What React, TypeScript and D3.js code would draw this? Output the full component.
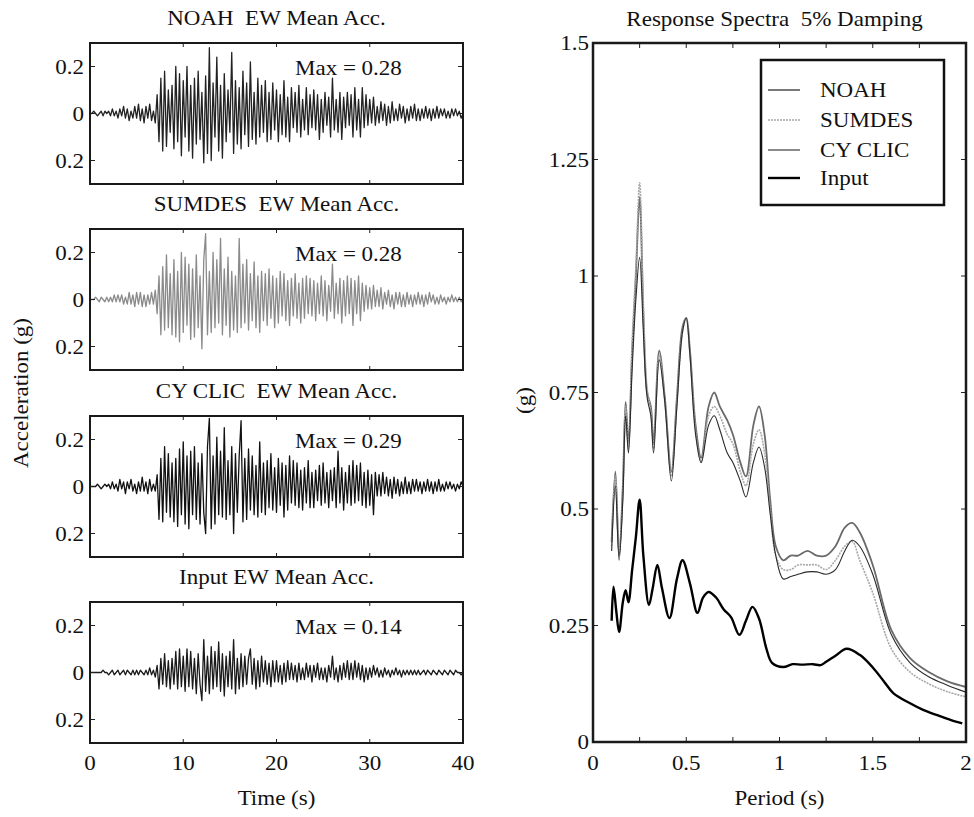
import React from 'react';
import * as d3 from 'd3';

const FONT = '"Liberation Serif", "Times New Roman", serif';

// ---------- Acceleration time histories (hundredths of g), sampled every 0.2 s from 0 to 40 s ----------
const sampleStep = 0.2;
const noahAcc = [
  0,0,1,0,-1, 0,1,-1,1,0, 1,-1,2,-1,1, -2,2,-1,3,-2, 2,-3,1,-2,3, -2,4,-3,2,-4, 3,-2,4,-3,1,
  -4,8,-12,15,-16, 18,-14,10,-8,12, -15,20,-12,17,-18, 14,-10,20,-16,12, -19,15,-13,18,-11,
  9,-21,16,-17,28, -20,13,-10,24,-16, 12,-19,17,-12,10, -8,26,-17,14,-13, 11,-15,18,-9,13,
  -14,22,-11,9,-13, 15,-10,12,-8,14, -12,9,-11,13,-7, 10,-12,8,-9,14, -10,7,-12,11,-6,
  9,-8,12,-10,6, -7,11,-9,8,-6, 10,-7,8,-11,6, -8,9,-5,7,-10, 15,-7,6,-8,9,
  -11,7,-6,9,-5, 8,-10,11,-7,6, -10,11,-6,8,-5, 6,-4,7,-5,3, -4,5,-3,4,-5,
  3,-4,5,-3,2, -3,4,-2,3,-4, 2,-3,3,-2,4, -3,2,-3,2,-2, 3,-2,2,-3,2,
  -2,3,-2,2,-1, 2,-2,1,-2,2, -1,2,-1,1,-2, 0,
];
const sumdesAcc = [
  0,0,0,1,0, -1,1,0,-1,1, -1,1,-1,2,-1, 2,-1,2,-2,1, -2,3,-2,2,-3, 3,-2,3,-3,2, -3,2,-2,3,-2,
  4,-6,10,-15,14, -13,19,-12,11,-15, 17,-16,12,-18,20, -14,18,-11,15,-17, 13,-16,19,-12,10,
  -21,17,28,-15,12, -14,20,-12,17,-10, 26,-15,13,-11,18, -16,12,-13,10,-14, 26,-12,15,-10,17,
  -13,11,-9,16,-12, 10,-14,12,-9,11, -11,13,-8,10,-12, 9,-10,12,-7,11, -9,8,-11,9,-7,
  11,-8,7,-10,9, -8,10,-6,9,-7, 8,-9,7,-6,10, -7,8,-9,6,-5, 15,-8,7,-6,9,
  -10,8,-7,10,-6, 9,-11,8,-6,10, -9,7,-5,6,-4, 5,-4,6,-3,4, -3,5,-4,3,-2,
  4,-3,2,-4,3, -2,3,-3,2,-3, 3,-2,2,-3,2, -2,3,-2,2,-3, 2,-2,3,-1,2,
  -2,1,-2,2,-1, 1,-2,1,-1,2, -1,1,-1,1,-1, 0,
];
const cyclicAcc = [
  0,0,0,0,1, 0,-1,0,1,0, 1,-1,2,-1,1, -2,3,-1,2,-3, 2,-1,3,-2,1, -3,2,-2,4,-2, 2,-3,3,-2,1,
  -2,5,-14,12,-15, 17,-11,14,-13,10, -15,12,-17,16,-12, 19,-16,13,-18,15, -12,17,-14,10,-16,
  14,-11,-20,17,29, -18,13,-16,21,-12, 15,-13,25,-14,11, -12,17,-20,14,-11, 13,28,-15,12,-14,
  16,-10,13,-12,9, -13,19,-11,10,-12, 11,-9,14,-10,8, -11,12,-8,10,-13, 9,-10,13,-7,11,
  -8,10,-9,7,-10, 8,-7,11,-9,6, -9,7,-6,9,-8, 10,-7,6,-9,7, -6,8,-9,15,-7,
  8,-10,6,-7,9, -8,11,-7,9,-6, 10,-8,6,-9,7, -8,5,-12,6,-4, 5,-4,6,-3,4,
  -4,3,-5,4,-3, 3,-4,2,-3,4, -3,2,-3,3,-2, 3,-2,2,-3,2, -2,3,-2,2,-3,
  2,-2,3,-2,1, -2,2,-1,2,-1, 1,-2,1,-1,2, 0,
];
const inputAcc = [
  0,0,0,0,0, 0,0,1,0,0, -1,0,1,-1,0, 1,-1,0,1,-1, 1,0,-1,1,-1, 1,-1,1,0,-1, 1,-1,2,-1,1,
  -2,3,-7,6,-5, 8,-6,5,-7,6, -5,9,-7,10,-6, 7,-8,10,-6,9, -7,6,-9,8,-5,
  -12,14,-8,7,-9, 11,-7,9,-6,13, -8,8,-10,7,-6, 9,-7,14,-9,6, -7,8,-6,7,-5,
  6,10,-5,6,-7, 5,-6,7,-4,5, -5,4,-6,5,-4, 5,-4,3,-5,4, -4,5,-3,4,-3,
  3,-4,4,-3,2, -3,4,-2,3,-4, 3,-2,4,-3,2, -3,2,-4,3,-2, 7,-3,2,-4,3,
  -3,4,-2,5,-3, 4,-3,5,-2,4, -3,3,-4,2,-3, 2,-2,3,-1,2, -2,1,-2,2,-1,
  1,-2,1,-1,2, -1,1,-2,1,-1, 1,-1,1,-1,1, -1,1,-1,0,1, -1,1,0,-1,1,
  0,-1,1,0,-1, 1,0,-1,1,0, -1,1,0,0,-1, 0,
];
const panelTitles = ['NOAH  EW Mean Acc.', 'SUMDES  EW Mean Acc.', 'CY CLIC  EW Mean Acc.', 'Input EW Mean Acc.'];
const maxLabels = ['Max = 0.28', 'Max = 0.28', 'Max = 0.29', 'Max = 0.14'];
const accYTicks = [20, 0, -20];
const accYTickLabels = ['0.2', '0', '0.2'];
const timeTicks = [0, 10, 20, 30, 40];

// ---------- Response spectra (g) ----------
const modelPeriods = [0.10,0.12,0.14,0.16,0.175,0.19,0.21,0.23,0.25,0.27,0.29,0.31,0.325,0.355,0.385,0.42,0.45,0.48,0.50,0.52,0.55,0.58,0.62,0.65,0.68,0.72,0.75,0.79,0.82,0.86,0.89,0.92,0.95,0.98,1.02,1.06,1.10,1.15,1.20,1.25,1.30,1.35,1.39,1.43,1.50,1.60,1.70,1.80,1.90,2.00];
const noahSa = [0.43,0.58,0.40,0.55,0.73,0.64,0.84,1.00,1.17,0.92,0.75,0.72,0.64,0.84,0.74,0.58,0.74,0.89,0.91,0.84,0.68,0.61,0.72,0.75,0.72,0.69,0.66,0.60,0.57,0.68,0.72,0.66,0.52,0.42,0.39,0.40,0.40,0.41,0.40,0.40,0.42,0.46,0.47,0.45,0.38,0.24,0.18,0.15,0.13,0.118];
const sumdesSa = [0.42,0.57,0.41,0.53,0.72,0.63,0.86,1.02,1.20,0.94,0.76,0.71,0.63,0.83,0.73,0.57,0.73,0.88,0.91,0.83,0.67,0.60,0.70,0.72,0.70,0.66,0.64,0.58,0.55,0.64,0.67,0.62,0.50,0.40,0.37,0.37,0.38,0.38,0.38,0.37,0.39,0.42,0.43,0.39,0.32,0.20,0.15,0.125,0.108,0.097];
const cyclicSa = [0.41,0.55,0.39,0.52,0.70,0.62,0.80,0.95,1.04,0.88,0.74,0.70,0.62,0.82,0.73,0.56,0.72,0.88,0.91,0.83,0.66,0.60,0.68,0.70,0.67,0.62,0.60,0.56,0.526,0.60,0.633,0.59,0.49,0.40,0.35,0.355,0.36,0.365,0.365,0.36,0.37,0.41,0.433,0.42,0.36,0.23,0.17,0.14,0.122,0.107];
const inputPeriods = [0.10,0.11,0.125,0.14,0.16,0.175,0.19,0.21,0.23,0.25,0.27,0.30,0.32,0.345,0.37,0.41,0.45,0.48,0.52,0.56,0.59,0.62,0.66,0.70,0.74,0.785,0.82,0.855,0.89,0.93,0.96,1.02,1.07,1.12,1.18,1.22,1.25,1.30,1.36,1.43,1.50,1.56,1.61,1.70,1.77,1.85,1.92,1.98];
const inputSa = [0.26,0.333,0.28,0.236,0.30,0.326,0.30,0.37,0.44,0.52,0.40,0.294,0.33,0.38,0.33,0.266,0.35,0.39,0.34,0.277,0.31,0.322,0.31,0.285,0.268,0.23,0.26,0.29,0.265,0.20,0.17,0.161,0.167,0.166,0.167,0.165,0.172,0.185,0.20,0.187,0.16,0.13,0.105,0.083,0.069,0.057,0.047,0.04];
const legendNames = ['NOAH', 'SUMDES', 'CY CLIC', 'Input'];
const periodTicks = [0, 0.25, 0.5, 0.75, 1, 1.25, 1.5, 1.75, 2];
const periodLabels = [0, 0.5, 1, 1.5, 2];
const saTicks = [0, 0.25, 0.5, 0.75, 1, 1.25, 1.5];

// ---------- layout ----------
const W = 974, H = 817;
const LX0 = 90, LX1 = 463;
const panelTops = [43, 229, 416, 602];
const PH = 141;
const RX0 = 593, RX1 = 966, RY0 = 43, RY1 = 742;
const traceColors = ['#222222', '#8a8a8a', '#111111', '#1a1a1a'];
const specStyles = [
  { color: '#6a6a6a', width: 1.8, dash: '' },
  { color: '#a8a8a8', width: 1.6, dash: '2 1' },
  { color: '#2a2a2a', width: 1.1, dash: '' },
  { color: '#000000', width: 2.4, dash: '' },
];

function Txt({ x, y, anchor = 'start', rotate = 0, size = 20, sx = 1.15, children }: any) {
  return (
    <g transform={`translate(${x},${y}) rotate(${rotate}) scale(${sx},1)`}>
      <text textAnchor={anchor} fontSize={size} fontFamily={FONT} fill="#111" style={{ whiteSpace: 'pre' }}>{children}</text>
    </g>
  );
}

function TracePanel({ idx, values }: { idx: number; values: number[] }) {
  const top = panelTops[idx];
  const x = d3.scaleLinear().domain([0, 40]).range([LX0, LX1]);
  const y = d3.scaleLinear().domain([-30, 30]).range([top + PH, top]);
  const line = d3.line<number>().x((_, i) => x(i * sampleStep)).y((d) => y(d));
  const isLast = idx === 3;
  return (
    <g>
      <Txt x={(LX0 + LX1) / 2} y={top - 18} anchor="middle">{panelTitles[idx]}</Txt>
      <path d={line(values) || ''} fill="none" stroke={traceColors[idx]} strokeWidth={1.3} strokeLinejoin="round" />
      <Txt x={295} y={top + 32}>{maxLabels[idx]}</Txt>
      {accYTicks.map((t, i) => (
        <g key={t}>
          <line x1={LX0} x2={LX0 + 5} y1={y(t)} y2={y(t)} stroke="#222" />
          <line x1={LX1} x2={LX1 - 5} y1={y(t)} y2={y(t)} stroke="#222" />
          <Txt x={84} y={y(t) + 7} anchor="end">{accYTickLabels[i]}</Txt>
        </g>
      ))}
      {timeTicks.map((t) => (
        <g key={t}>
          <line x1={x(t)} x2={x(t)} y1={top + PH} y2={top + PH - 4} stroke="#222" />
          <line x1={x(t)} x2={x(t)} y1={top} y2={top + 4} stroke="#222" />
          {isLast && <Txt x={x(t)} y={770} anchor="middle">{String(t)}</Txt>}
        </g>
      ))}
      <rect x={LX0} y={top} width={LX1 - LX0} height={PH} fill="none" stroke="#1a1a1a" strokeWidth={2} />
    </g>
  );
}

function Spectra() {
  const x = d3.scaleLinear().domain([0, 2]).range([RX0, RX1]);
  const y = d3.scaleLinear().domain([0, 1.5]).range([RY1, RY0]);
  const mk = (ps: number[], vs: number[]) =>
    d3.line<number>().x((_, i) => x(ps[i])).y((d) => y(d)).curve(d3.curveCatmullRom.alpha(0.5))(vs) || '';
  const series = [
    mk(modelPeriods, noahSa),
    mk(modelPeriods, sumdesSa),
    mk(modelPeriods, cyclicSa),
    mk(inputPeriods, inputSa),
  ];
  const lgX = 761, lgY = 60, lgW = 183, lgH = 145;
  const lgBase = [97, 127, 157, 185];
  return (
    <g>
      <Txt x={(RX0 + RX1) / 2 - 5} y={26} anchor="middle">Response Spectra  5% Damping</Txt>
      <defs>
        <clipPath id="specClip"><rect x={RX0} y={RY0} width={RX1 - RX0} height={RY1 - RY0} /></clipPath>
      </defs>
      <g clipPath="url(#specClip)">
        {series.map((d, i) => (
          <path key={i} d={d} fill="none" stroke={specStyles[i].color} strokeWidth={specStyles[i].width}
            strokeDasharray={specStyles[i].dash || undefined} strokeLinejoin="round" />
        ))}
      </g>
      {periodTicks.map((t) => (
        <g key={t}>
          <line x1={x(t)} x2={x(t)} y1={RY1} y2={RY1 - 5} stroke="#222" />
          <line x1={x(t)} x2={x(t)} y1={RY0} y2={RY0 + 5} stroke="#222" />
        </g>
      ))}
      {periodLabels.map((t) => (
        <Txt key={t} x={x(t)} y={770} anchor="middle">{String(t)}</Txt>
      ))}
      {saTicks.map((t) => (
        <g key={t}>
          <line x1={RX0} x2={RX0 + 5} y1={y(t)} y2={y(t)} stroke="#222" />
          <line x1={RX1} x2={RX1 - 5} y1={y(t)} y2={y(t)} stroke="#222" />
          <Txt x={589} y={y(t) + 7} anchor="end">{String(t)}</Txt>
        </g>
      ))}
      <rect x={RX0} y={RY0} width={RX1 - RX0} height={RY1 - RY0} fill="none" stroke="#1a1a1a" strokeWidth={2.5} />
      <rect x={lgX} y={lgY} width={lgW} height={lgH} fill="#fff" stroke="#111" strokeWidth={2.5} />
      {legendNames.map((n, i) => (
        <g key={n}>
          <line x1={768} x2={800} y1={lgBase[i] - 7} y2={lgBase[i] - 7} stroke={specStyles[i].color}
            strokeWidth={specStyles[i].width} strokeDasharray={specStyles[i].dash || undefined} />
          <Txt x={820} y={lgBase[i]}>{n}</Txt>
        </g>
      ))}
      <Txt x={(RX0 + RX1) / 2} y={805} anchor="middle">Period (s)</Txt>
      <Txt x={531} y={(RY0 + RY1) / 2 + 8} anchor="middle" rotate={-90}>(g)</Txt>
    </g>
  );
}

export default function App() {
  const traces = [noahAcc, sumdesAcc, cyclicAcc, inputAcc];
  return (
    <svg width={W} height={H} style={{ position: 'absolute', left: 0, top: 0, background: '#fff' }}>
      <rect x={0} y={0} width={W} height={H} fill="#fff" />
      {traces.map((v, i) => <TracePanel key={i} idx={i} values={v} />)}
      <Txt x={(LX0 + LX1) / 2} y={805} anchor="middle">Time (s)</Txt>
      <Txt x={28} y={393} anchor="middle" rotate={-90}>Acceleration (g)</Txt>
      <Spectra />
    </svg>
  );
}
